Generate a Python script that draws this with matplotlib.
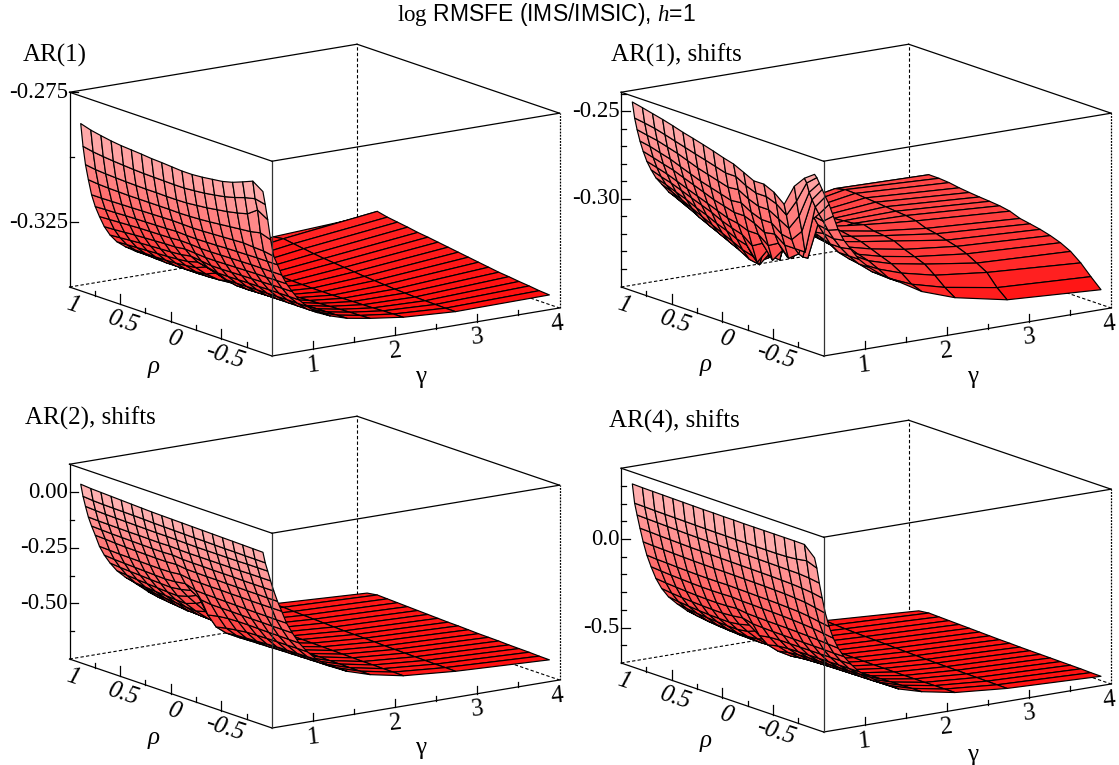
import matplotlib
matplotlib.use('Agg')
import matplotlib.pyplot as plt
from matplotlib.colors import LinearSegmentedColormap, Normalize
from matplotlib.lines import Line2D
from mpl_toolkits.mplot3d import proj3d
import numpy as np

plt.rcParams['font.family'] = 'Liberation Sans'
plt.rcParams['mathtext.fontset'] = 'custom'
plt.rcParams['mathtext.rm'] = 'Liberation Serif'
plt.rcParams['mathtext.it'] = 'Liberation Serif:italic'

W, H = 1119, 765
SERIF = 'Liberation Serif'

# grid of the surfaces
gammas = [0.513, 0.541, 0.571, 0.606, 0.645, 0.690, 0.741, 0.800, 0.870, 0.952,
          1.053, 1.176, 1.333, 1.538, 1.818, 2.222, 2.857, 4.000]
rhos = [0.9, 0.8, 0.7, 0.6, 0.5, 0.4, 0.3, 0.2, 0.1, 0.0,
        -0.1, -0.2, -0.3, -0.4, -0.5, -0.6, -0.7, -0.8, -0.9]

# one row per rho, one column per gamma
z_ar1 = [
    [-.2858, -.2947, -.3019, -.3079, -.3139, -.3187, -.3228, -.3270, -.3306, -.3336, -.3360, -.3384, -.3407, -.3431, -.3440, -.3440, -.3418, -.3398],
    [-.2870, -.2955, -.3025, -.3083, -.3139, -.3185, -.3226, -.3268, -.3303, -.3334, -.3360, -.3384, -.3408, -.3432, -.3442, -.3442, -.3412, -.3367],
    [-.2878, -.2960, -.3028, -.3085, -.3138, -.3184, -.3224, -.3265, -.3300, -.3332, -.3360, -.3386, -.3410, -.3435, -.3447, -.3448, -.3418, -.3376],
    [-.2885, -.2964, -.3030, -.3086, -.3137, -.3182, -.3222, -.3262, -.3297, -.3330, -.3360, -.3388, -.3412, -.3437, -.3450, -.3452, -.3424, -.3382],
    [-.2890, -.2967, -.3032, -.3087, -.3136, -.3181, -.3220, -.3260, -.3295, -.3328, -.3359, -.3388, -.3413, -.3438, -.3452, -.3455, -.3430, -.3388],
    [-.2893, -.2970, -.3033, -.3087, -.3135, -.3180, -.3219, -.3258, -.3293, -.3326, -.3357, -.3387, -.3413, -.3439, -.3454, -.3457, -.3435, -.3395],
    [-.2896, -.2972, -.3034, -.3087, -.3134, -.3179, -.3218, -.3256, -.3291, -.3323, -.3353, -.3384, -.3412, -.3438, -.3455, -.3459, -.3439, -.3400],
    [-.2900, -.2973, -.3034, -.3087, -.3133, -.3178, -.3217, -.3255, -.3288, -.3319, -.3348, -.3379, -.3410, -.3437, -.3455, -.3461, -.3443, -.3406],
    [-.2902, -.2974, -.3035, -.3087, -.3132, -.3176, -.3214, -.3250, -.3281, -.3308, -.3332, -.3362, -.3400, -.3433, -.3455, -.3462, -.3447, -.3412],
    [-.2905, -.2975, -.3035, -.3088, -.3133, -.3178, -.3215, -.3253, -.3286, -.3316, -.3343, -.3376, -.3406, -.3433, -.3455, -.3463, -.3451, -.3418],
    [-.2908, -.2975, -.3034, -.3087, -.3134, -.3179, -.3218, -.3256, -.3291, -.3324, -.3355, -.3384, -.3410, -.3434, -.3453, -.3463, -.3454, -.3424],
    [-.2908, -.2972, -.3030, -.3085, -.3133, -.3178, -.3218, -.3256, -.3291, -.3324, -.3355, -.3384, -.3408, -.3432, -.3451, -.3463, -.3457, -.3430],
    [-.2905, -.2968, -.3026, -.3082, -.3131, -.3177, -.3217, -.3255, -.3290, -.3323, -.3354, -.3383, -.3407, -.3430, -.3449, -.3462, -.3460, -.3436],
    [-.2900, -.2962, -.3020, -.3078, -.3129, -.3175, -.3216, -.3254, -.3289, -.3322, -.3353, -.3382, -.3406, -.3428, -.3447, -.3461, -.3462, -.3442],
    [-.2895, -.2955, -.3014, -.3074, -.3127, -.3174, -.3215, -.3253, -.3288, -.3322, -.3353, -.3382, -.3405, -.3427, -.3445, -.3460, -.3464, -.3446],
    [-.2885, -.2945, -.3006, -.3070, -.3125, -.3173, -.3214, -.3252, -.3287, -.3321, -.3353, -.3382, -.3404, -.3426, -.3443, -.3459, -.3465, -.3451],
    [-.2870, -.2932, -.2996, -.3066, -.3128, -.3172, -.3214, -.3252, -.3286, -.3321, -.3352, -.3382, -.3404, -.3425, -.3441, -.3457, -.3466, -.3455],
    [-.2854, -.2923, -.2968, -.3058, -.3130, -.3172, -.3214, -.3251, -.3285, -.3321, -.3352, -.3382, -.3403, -.3424, -.3440, -.3456, -.3467, -.3460],
    [-.2881, -.2932, -.2992, -.3071, -.3137, -.3172, -.3214, -.3251, -.3285, -.3321, -.3352, -.3382, -.3403, -.3423, -.3438, -.3455, -.3467, -.3463],
]

z_ar1_shifts = [
    [-.2427, -.2521, -.2590, -.2658, -.2720, -.2781, -.2833, -.2884, -.2926, -.2975, -.3021, -.3069, -.3132, -.3182, -.3205, -.3194, -.3142, -.3149],
    [-.2440, -.2530, -.2602, -.2669, -.2736, -.2797, -.2853, -.2903, -.2948, -.2998, -.3048, -.3099, -.3143, -.3171, -.3171, -.3149, -.3088, -.3098],
    [-.2454, -.2541, -.2613, -.2686, -.2753, -.2814, -.2870, -.2926, -.2976, -.3026, -.3076, -.3121, -.3160, -.3171, -.3160, -.3132, -.3074, -.3099],
    [-.2468, -.2557, -.2630, -.2702, -.2769, -.2836, -.2892, -.2948, -.3004, -.3060, -.3104, -.3143, -.3171, -.3171, -.3154, -.3127, -.3076, -.3104],
    [-.2484, -.2574, -.2647, -.2725, -.2792, -.2859, -.2915, -.2976, -.3032, -.3088, -.3132, -.3166, -.3177, -.3171, -.3149, -.3121, -.3082, -.3114],
    [-.2502, -.2591, -.2669, -.2747, -.2814, -.2881, -.2937, -.2998, -.3060, -.3115, -.3160, -.3182, -.3182, -.3171, -.3143, -.3115, -.3087, -.3121],
    [-.2517, -.2608, -.2691, -.2769, -.2836, -.2903, -.2959, -.3026, -.3088, -.3143, -.3188, -.3199, -.3188, -.3166, -.3138, -.3110, -.3093, -.3127],
    [-.2533, -.2624, -.2708, -.2786, -.2859, -.2926, -.2987, -.3048, -.3115, -.3171, -.3210, -.3210, -.3194, -.3160, -.3132, -.3104, -.3099, -.3132],
    [-.2550, -.2641, -.2725, -.2803, -.2875, -.2948, -.3009, -.3076, -.3143, -.3205, -.3227, -.3216, -.3194, -.3154, -.3127, -.3099, -.3104, -.3138],
    [-.2569, -.2658, -.2742, -.2820, -.2892, -.2959, -.3026, -.3093, -.3160, -.3216, -.3171, -.3082, -.3060, -.3060, -.3065, -.3087, -.3115, -.3149],
    [-.2585, -.2658, -.2736, -.2814, -.2892, -.2981, -.3071, -.3171, -.3037, -.2993, -.3015, -.3015, -.3026, -.3048, -.3071, -.3104, -.3138, -.3171],
    [-.2613, -.2691, -.2769, -.2848, -.2915, -.2981, -.3037, -.3082, -.3127, -.3149, -.2993, -.2981, -.3026, -.3060, -.3082, -.3110, -.3149, -.3182],
    [-.2642, -.2714, -.2792, -.2870, -.2948, -.3026, -.3115, -.2948, -.2881, -.2903, -.2948, -.2993, -.3037, -.3071, -.3093, -.3121, -.3166, -.3194],
    [-.2641, -.2714, -.2792, -.2870, -.2937, -.2993, -.3037, -.3082, -.3093, -.2926, -.2959, -.3004, -.3048, -.3082, -.3115, -.3149, -.3182, -.3210],
    [-.2668, -.2736, -.2825, -.2915, -.2981, -.3060, -.2903, -.2836, -.2870, -.2915, -.2970, -.3015, -.3060, -.3104, -.3138, -.3171, -.3205, -.3231],
    [-.2717, -.2781, -.2859, -.2926, -.2981, -.3015, -.3037, -.3048, -.2903, -.2937, -.2981, -.3026, -.3071, -.3121, -.3160, -.3194, -.3238, -.3261],
    [-.2594, -.2680, -.2769, -.2859, -.2981, -.2814, -.2781, -.2836, -.2892, -.2959, -.3015, -.3060, -.3104, -.3149, -.3194, -.3238, -.3272, -.3307],
    [-.2528, -.2557, -.2613, -.2658, -.2702, -.2747, -.2792, -.2848, -.2903, -.2959, -.3015, -.3071, -.3127, -.3182, -.3238, -.3288, -.3339, -.3366],
    [-.2486, -.2507, -.2541, -.2580, -.2624, -.2672, -.2743, -.2825, -.2892, -.2948, -.3015, -.3071, -.3127, -.3182, -.3260, -.3327, -.3389, -.3421],
]

z_ar2_shifts = [
    [.050, -.006, -.053, -.103, -.146, -.190, -.243, -.286, -.326, -.365, -.400, -.435, -.483, -.531, -.601, -.619, -.632, -.654],
    [.046, -.010, -.056, -.105, -.148, -.192, -.245, -.290, -.330, -.370, -.410, -.445, -.492, -.538, -.590, -.620, -.632, -.647],
    [.044, -.012, -.058, -.106, -.150, -.195, -.247, -.292, -.333, -.374, -.414, -.451, -.498, -.543, -.594, -.622, -.635, -.649],
    [.042, -.013, -.059, -.107, -.151, -.197, -.248, -.294, -.335, -.377, -.418, -.456, -.503, -.547, -.596, -.623, -.637, -.651],
    [.040, -.014, -.060, -.108, -.152, -.198, -.249, -.296, -.338, -.380, -.421, -.460, -.507, -.550, -.598, -.625, -.639, -.653],
    [.038, -.015, -.061, -.108, -.153, -.199, -.250, -.298, -.340, -.383, -.424, -.464, -.510, -.553, -.599, -.626, -.641, -.655],
    [.036, -.016, -.062, -.109, -.154, -.200, -.251, -.300, -.342, -.385, -.426, -.467, -.513, -.556, -.600, -.627, -.643, -.657],
    [.034, -.018, -.063, -.110, -.154, -.200, -.250, -.297, -.336, -.372, -.410, -.455, -.510, -.558, -.601, -.628, -.645, -.659],
    [.033, -.019, -.063, -.109, -.152, -.197, -.245, -.290, -.325, -.352, -.385, -.435, -.500, -.558, -.602, -.629, -.646, -.661],
    [.032, -.020, -.064, -.111, -.156, -.203, -.252, -.305, -.352, -.425, -.485, -.520, -.550, -.573, -.603, -.630, -.647, -.662],
    [.031, -.021, -.065, -.112, -.157, -.204, -.253, -.307, -.358, -.415, -.475, -.515, -.548, -.574, -.604, -.631, -.648, -.664],
    [.030, -.022, -.066, -.112, -.157, -.205, -.254, -.308, -.358, -.410, -.468, -.512, -.547, -.574, -.604, -.632, -.650, -.666],
    [.029, -.022, -.066, -.112, -.158, -.205, -.254, -.309, -.358, -.408, -.462, -.510, -.546, -.574, -.605, -.633, -.651, -.667],
    [.028, -.023, -.066, -.112, -.158, -.206, -.255, -.310, -.359, -.408, -.460, -.507, -.544, -.575, -.605, -.634, -.652, -.668],
    [.027, -.024, -.066, -.112, -.158, -.206, -.255, -.311, -.360, -.409, -.459, -.505, -.543, -.575, -.606, -.635, -.653, -.670],
    [.026, -.024, -.066, -.112, -.159, -.207, -.256, -.312, -.360, -.410, -.458, -.504, -.542, -.575, -.606, -.635, -.654, -.671],
    [.025, -.025, -.065, -.111, -.159, -.207, -.256, -.312, -.361, -.410, -.458, -.503, -.541, -.575, -.607, -.636, -.655, -.672],
    [.024, -.025, -.065, -.111, -.159, -.208, -.256, -.313, -.361, -.411, -.457, -.502, -.540, -.575, -.607, -.636, -.655, -.674],
    [.023, -.026, -.065, -.111, -.159, -.208, -.256, -.313, -.361, -.411, -.457, -.501, -.540, -.575, -.607, -.637, -.656, -.675],
]

z_ar4_shifts = [
    [.330, .219, .150, .073, -.007, -.086, -.155, -.226, -.288, -.341, -.387, -.436, -.484, -.530, -.590, -.612, -.624, -.657],
    [.328, .218, .148, .071, -.010, -.090, -.160, -.232, -.295, -.349, -.396, -.446, -.494, -.540, -.597, -.616, -.628, -.650],
    [.327, .216, .146, .068, -.012, -.092, -.164, -.236, -.300, -.355, -.403, -.453, -.500, -.546, -.600, -.619, -.631, -.652],
    [.326, .215, .144, .066, -.014, -.095, -.167, -.240, -.304, -.360, -.408, -.458, -.505, -.550, -.602, -.621, -.634, -.654],
    [.325, .214, .142, .064, -.016, -.097, -.170, -.243, -.307, -.364, -.412, -.462, -.509, -.553, -.604, -.623, -.636, -.656],
    [.324, .213, .140, .062, -.018, -.099, -.172, -.245, -.309, -.366, -.415, -.465, -.511, -.555, -.605, -.625, -.638, -.658],
    [.323, .212, .139, .061, -.019, -.100, -.173, -.246, -.310, -.367, -.416, -.466, -.512, -.556, -.606, -.626, -.640, -.660],
    [.322, .211, .138, .060, -.020, -.100, -.172, -.244, -.306, -.360, -.408, -.460, -.510, -.557, -.606, -.627, -.642, -.662],
    [.322, .210, .137, .059, -.020, -.099, -.170, -.240, -.298, -.345, -.385, -.440, -.500, -.556, -.606, -.628, -.644, -.664],
    [.321, .210, .136, .058, -.021, -.101, -.174, -.248, -.312, -.385, -.445, -.490, -.530, -.566, -.607, -.629, -.646, -.665],
    [.321, .209, .135, .057, -.022, -.102, -.175, -.250, -.315, -.375, -.432, -.478, -.522, -.565, -.607, -.630, -.648, -.667],
    [.320, .209, .135, .056, -.023, -.104, -.177, -.252, -.317, -.372, -.427, -.471, -.518, -.563, -.606, -.630, -.649, -.668],
    [.320, .208, .134, .055, -.024, -.105, -.178, -.253, -.318, -.372, -.425, -.468, -.516, -.561, -.604, -.631, -.650, -.669],
    [.320, .208, .133, .054, -.026, -.107, -.180, -.254, -.319, -.372, -.424, -.467, -.515, -.560, -.602, -.631, -.651, -.670],
    [.320, .208, .132, .052, -.028, -.110, -.183, -.256, -.320, -.372, -.423, -.466, -.514, -.559, -.600, -.631, -.652, -.671],
    [.320, .210, .131, .050, -.032, -.113, -.187, -.258, -.320, -.372, -.423, -.465, -.513, -.558, -.598, -.631, -.653, -.672],
    [.320, .215, .130, .046, -.037, -.120, -.192, -.261, -.321, -.371, -.422, -.464, -.512, -.558, -.597, -.630, -.654, -.673],
    [.319, .225, .125, .040, -.048, -.130, -.200, -.265, -.322, -.371, -.422, -.462, -.511, -.557, -.595, -.630, -.655, -.675],
    [.263, .203, .116, .029, -.060, -.139, -.208, -.269, -.322, -.370, -.421, -.460, -.509, -.557, -.594, -.630, -.656, -.676],
]

panel_titles = ['AR(1)', 'AR(1), shifts', 'AR(2), shifts', 'AR(4), shifts']
panel_z = [z_ar1, z_ar1_shifts, z_ar2_shifts, z_ar4_shifts]
panel_zlim = [(-0.35, -0.275), (-0.3506, -0.239), (-0.75, 0.125), (-0.70, 0.40)]
z_major = [[-0.275, -0.325], [-0.25, -0.30], [0.0, -0.25, -0.50], [0.0, -0.5]]
z_major_labels = [['-0.275', '-0.325'], ['-0.25', '-0.30'], ['0.00', '-0.25', '-0.50'], ['0.0', '-0.5']]
z_minor = [[-0.30],
           [-0.24, -0.26, -0.27, -0.28, -0.29, -0.31, -0.32, -0.33, -0.34],
           [-0.125, -0.375, -0.625],
           [0.3, 0.2, 0.1, -0.1, -0.2, -0.3, -0.4, -0.6]]
rho_major = [1, 0.5, 0, -0.5]
rho_labels = ['1', '0.5', '0', '-0.5']
rho_minor = [0.75, 0.25, -0.25, -0.75]
gamma_major = [1, 2, 3, 4]
gamma_minor = [1.5, 2.5, 3.5]

# pixel position of the front bottom corner of each box
front_px = [(272, 356), (823.6, 356), (272, 728), (823.6, 732)]
title_px = [(23, 55), (611, 55), (25, 418), (609, 421)]
gamma_label_dy = [21, 21, 20, 23]
rho_label_dy = [11, 9, 10, 9]

cmap = LinearSegmentedColormap.from_list('reds', [(1, 0.06, 0.06), (1, 0.72, 0.72)])

fig = plt.figure(figsize=(W / 100, H / 100), dpi=100)


def to_px(ax, g, r, z):
    x, y, _ = proj3d.proj_transform(g, r, z, ax.get_proj())
    d = ax.transData.transform((x, y))
    return d[0], H - d[1]


def fig_line(xs, ys, lw=0.9, **kw):
    fig.add_artist(Line2D([x / W for x in xs], [1 - y / H for y in ys], color='k', lw=lw,
                          transform=fig.transFigure, **kw))


def fig_text(x, y, s, **kw):
    fig.text(x / W, 1 - y / H, s, family=SERIF, **kw)


for i in range(4):
    zmin, zmax = panel_zlim[i]
    ax = fig.add_axes([0.1, 0.1, 0.5, 0.5], projection='3d', proj_type='ortho')
    ax.set_box_aspect((350, 352, 200))
    ax.view_init(elev=13.8, azim=-125)
    ax.set_xlim(0.5, 4, view_margin=0)
    ax.set_ylim(-1, 1, view_margin=0)
    ax.set_zlim(zmin, zmax, view_margin=0)
    ax.set_axis_off()
    ax.computed_zorder = False
    ax.patch.set_alpha(0)

    # fit the box on the pixels of the reference
    size = 600.0
    fx, fy = front_px[i]
    cx, cy = fx, fy - 100
    for _ in range(4):
        ax.set_position([(cx - size / 2) / W, 1 - (cy + size / 2) / H, size / W, size / H])
        ax.apply_aspect()
        x0, y0 = to_px(ax, 0.5, 1, zmin)
        x1, y1 = to_px(ax, 4, -1, zmin)
        size *= 490.0 / (x1 - x0)
        ax.set_position([(cx - size / 2) / W, 1 - (cy + size / 2) / H, size / W, size / H])
        ax.apply_aspect()
        x2, y2 = to_px(ax, 0.5, -1, zmin)
        cx += fx - x2
        cy += fy - y2

    # back edges under the surface
    dash = dict(color='k', lw=0.8, ls=(0, (3, 2)), zorder=1)
    ax.plot([0.5, 0.5], [1, 1], [zmin, zmin], **dash)
    ax.plot([0.5, 4], [1, 1], [zmin, zmin], **dash)
    ax.plot([4, 4], [1, -1], [zmin, zmin], **dash)
    ax.plot([4, 4], [1, 1], [zmin, zmax], **dash)

    G, R = np.meshgrid(gammas, rhos)
    Z = np.array(panel_z[i])
    Zc = (Z[:-1, :-1] + Z[1:, :-1] + Z[:-1, 1:] + Z[1:, 1:]) / 4
    colors = cmap(Normalize(Z.min(), Z.max())(Zc))
    ax.plot_surface(G, R, Z, rstride=1, cstride=1, facecolors=colors, shade=False,
                    edgecolor='k', linewidth=0.85, zorder=2)

    # box edges in front
    solid = dict(color='k', lw=0.9, zorder=3)
    ax.plot([0.5, 4], [-1, -1], [zmin, zmin], **solid)
    ax.plot([0.5, 0.5], [-1, 1], [zmin, zmin], **solid)
    ax.plot([0.5, 0.5], [-1, -1], [zmin, zmax], color='#333333', lw=0.9, zorder=3)
    ax.plot([0.5, 0.5], [1, 1], [zmin, zmax], **solid)
    ax.plot([4, 4], [-1, -1], [zmin, zmax], color='k', lw=0.9, ls=(0, (1.5, 1)), zorder=3)
    ax.plot([0.5, 4], [-1, -1], [zmax, zmax], **solid)
    ax.plot([0.5, 0.5], [-1, 1], [zmax, zmax], **solid)
    ax.plot([0.5, 4], [1, 1], [zmax, zmax], **solid)
    ax.plot([4, 4], [-1, 1], [zmax, zmax], **solid)

    # z axis ticks
    for v, lab in zip(z_major[i], z_major_labels[i]):
        x, y = to_px(ax, 0.5, 1, v)
        fig_line([x, x + 8.5], [y, y])
        fig_text(x - 1.5, y, lab, size=16.5, ha='right', va='center')
    for v in z_minor[i]:
        x, y = to_px(ax, 0.5, 1, v)
        fig_line([x, x + 4.5], [y, y])

    # rho axis ticks
    for v, lab in zip(rho_major, rho_labels):
        x, y = to_px(ax, 0.5, v, zmin)
        if v != 1:
            fig_line([x, x], [y, y - 10])
        fig_text(x + 3, y + 18, lab, size=18, style='italic', rotation=-18,
                 rotation_mode='anchor', ha='center', va='center')
    for v in rho_minor:
        x, y = to_px(ax, 0.5, v, zmin)
        fig_line([x, x], [y, y - 5])

    # gamma axis ticks
    for v in gamma_major:
        x, y = to_px(ax, v, -1, zmin)
        if v != 4:
            fig_line([x, x], [y, y - 8])
        fig_text(x - (2 if v == 4 else 0), y + 16, str(v), size=18, rotation=6,
                 rotation_mode='anchor', ha='center', va='center')
    for v in gamma_minor:
        x, y = to_px(ax, v, -1, zmin)
        fig_line([x, x], [y, y - 5])

    fig_text(fx - 118, fy + rho_label_dy[i], '\u03c1', size=18, style='italic', ha='center', va='center')
    fig_text(fx + 149, fy + gamma_label_dy[i], '\u03b3', size=18, ha='center', va='center')
    fig_text(title_px[i][0], title_px[i][1], panel_titles[i], size=18, ha='left', va='center')

fig.text(546 / W, 1 - 14 / H, r'$\mathrm{log}$ RMSFE (IMS/IMSIC), $h$=1', size=16.5, ha='center', va='center')

plt.savefig('out.png', dpi=100)
